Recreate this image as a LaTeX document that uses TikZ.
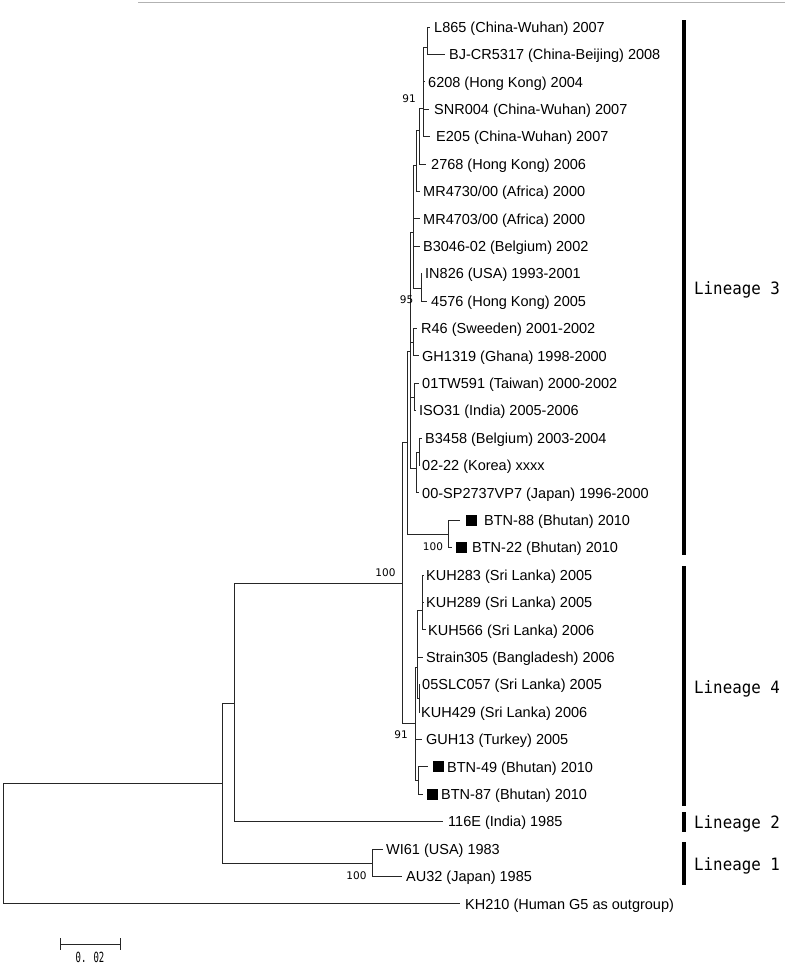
\documentclass[tikz,border=0pt]{standalone}
\usepackage{fontspec}
\usepackage{graphicx}
\setmainfont{Liberation Sans}
\newfontfamily\monofont{DejaVu Sans Mono}
\newfontfamily\bootfont{DejaVu Sans}
\begin{document}
\begin{tikzpicture}[x=1pt,y=-1pt,
  branch/.style={draw=black!85, line width=0.9pt},
  leaf/.style={anchor=west, inner sep=0pt, font=\fontsize{14.5}{16}\selectfont, text height=10.4pt, text depth=0pt},
  boot/.style={inner sep=0pt, font=\bootfont\fontsize{10.5}{12}\selectfont, text height=7.6pt, text depth=0pt},
  lin/.style={anchor=west, inner sep=0pt, font=\monofont\fontsize{17}{19}\selectfont, text height=12.4pt, text depth=0pt},
  bar/.style={line width=3.3pt, black},
  marker/.style={fill=black, minimum size=11pt, inner sep=0pt, anchor=west}]
\useasboundingbox (0,0) rectangle (788,964);
\draw[black!30, line width=0.8pt] (138,2.5) -- (785,2.5);

% internal nodes
\coordinate (root) at (3,783);
\coordinate (n222) at (222,783);
\coordinate (n234) at (234,703);
\coordinate (nL1) at (372,863);
\coordinate (N34) at (402,583);
\coordinate (N3) at (407,442);
\coordinate (nBTN) at (448,534);
\coordinate (nUp) at (410,351);
\coordinate (nC) at (413,232);
\coordinate (nB) at (416,165);
\coordinate (nA) at (419,130);
\coordinate (n91) at (423,108);
\coordinate (nLB) at (427,47);
\coordinate (nIN) at (421,288);
\coordinate (nR) at (413,342);
\coordinate (nTW) at (414,397);
\coordinate (n00) at (416,468);
\coordinate (nBK) at (419,452);
\coordinate (nL4) at (415,723);
\coordinate (nK3) at (417,667);
\coordinate (nK1) at (422,610);
\coordinate (nK2) at (419,698);
\coordinate (nBT) at (418,780);

% leaf tips
\coordinate (t0) at (430,27.0);
\coordinate (t1) at (445,54.4);
\coordinate (t2) at (425,81.8);
\coordinate (t3) at (429,109.2);
\coordinate (t4) at (430,136.6);
\coordinate (t5) at (426,164.0);
\coordinate (t6) at (420,191.4);
\coordinate (t7) at (420,218.8);
\coordinate (t8) at (420,246.2);
\coordinate (t9) at (422,273.6);
\coordinate (t10) at (427,301.0);
\coordinate (t11) at (417,328.4);
\coordinate (t12) at (419,355.8);
\coordinate (t13) at (419,383.2);
\coordinate (t14) at (416,410.6);
\coordinate (t15) at (422,438.0);
\coordinate (t16) at (420,465.4);
\coordinate (t17) at (419,492.8);
\coordinate (t18) at (460,520.2);
\coordinate (t19) at (452,547.6);
\coordinate (t20) at (424,575.0);
\coordinate (t21) at (424,602.4);
\coordinate (t22) at (426,629.8);
\coordinate (t23) at (423,657.2);
\coordinate (t24) at (420,684.6);
\coordinate (t25) at (420,712.0);
\coordinate (t26) at (422,739.4);
\coordinate (t27) at (428,766.8);
\coordinate (t28) at (423,794.2);
\coordinate (t29) at (443,821.6);
\coordinate (t30) at (383,849.0);
\coordinate (t31) at (402,876.4);
\coordinate (t32) at (460,903.8);

% branches
\draw[branch] (root) |- (n222);
\draw[branch] (root) |- (t32);
\draw[branch] (n222) |- (n234);
\draw[branch] (n222) |- (nL1);
\draw[branch] (nL1) |- (t30);
\draw[branch] (nL1) |- (t31);
\draw[branch] (n234) |- (N34);
\draw[branch] (n234) |- (t29);
\draw[branch] (N34) |- (N3);
\draw[branch] (N34) |- (nL4);
\draw[branch] (N3) |- (nUp);
\draw[branch] (N3) |- (nBTN);
\draw[branch] (nBTN) |- (t18);
\draw[branch] (nBTN) |- (t19);
\draw[branch] (nUp) |- (nC);
\draw[branch] (nUp) |- (nR);
\draw[branch] (nUp) |- (nTW);
\draw[branch] (nUp) |- (n00);
\draw[branch] (nC) |- (nB);
\draw[branch] (nC) |- (t7);
\draw[branch] (nC) |- (t8);
\draw[branch] (nC) |- (nIN);
\draw[branch] (nB) |- (nA);
\draw[branch] (nB) |- (t6);
\draw[branch] (nA) |- (n91);
\draw[branch] (nA) |- (t5);
\draw[branch] (n91) |- (nLB);
\draw[branch] (n91) |- (t2);
\draw[branch] (n91) |- (t3);
\draw[branch] (n91) |- (t4);
\draw[branch] (nLB) |- (t0);
\draw[branch] (nLB) |- (t1);
\draw[branch] (nIN) |- (t9);
\draw[branch] (nIN) |- (t10);
\draw[branch] (nR) |- (t11);
\draw[branch] (nR) |- (t12);
\draw[branch] (nTW) |- (t13);
\draw[branch] (nTW) |- (t14);
\draw[branch] (n00) |- (nBK);
\draw[branch] (n00) |- (t17);
\draw[branch] (nBK) |- (t15);
\draw[branch] (nBK) |- (t16);
\draw[branch] (nL4) |- (nK3);
\draw[branch] (nL4) |- (t26);
\draw[branch] (nL4) |- (nBT);
\draw[branch] (nK3) |- (nK1);
\draw[branch] (nK3) |- (t23);
\draw[branch] (nK3) |- (nK2);
\draw[branch] (nK1) |- (t20);
\draw[branch] (nK1) |- (t21);
\draw[branch] (nK1) |- (t22);
\draw[branch] (nK2) |- (t24);
\draw[branch] (nK2) |- (t25);
\draw[branch] (nBT) |- (t27);
\draw[branch] (nBT) |- (t28);

% leaf labels
\node[leaf] (l0) at (434,27.0) {L865 (China-Wuhan) 2007};
\node[leaf] (l1) at (449,54.4) {BJ-CR5317 (China-Beijing) 2008};
\node[leaf] (l2) at (428,81.8) {6208 (Hong Kong) 2004};
\node[leaf] (l3) at (434,109.2) {SNR004 (China-Wuhan) 2007};
\node[leaf] (l4) at (436,136.6) {E205 (China-Wuhan) 2007};
\node[leaf] (l5) at (431,164.0) {2768 (Hong Kong) 2006};
\node[leaf] (l6) at (423,191.4) {MR4730/00 (Africa) 2000};
\node[leaf] (l7) at (423,218.8) {MR4703/00 (Africa) 2000};
\node[leaf] (l8) at (423,246.2) {B3046-02 (Belgium) 2002};
\node[leaf] (l9) at (425,273.6) {IN826 (USA) 1993-2001};
\node[leaf] (l10) at (431,301.0) {4576 (Hong Kong) 2005};
\node[leaf] (l11) at (421,328.4) {R46 (Sweeden) 2001-2002};
\node[leaf] (l12) at (422,355.8) {GH1319 (Ghana) 1998-2000};
\node[leaf] (l13) at (422,383.2) {01TW591 (Taiwan) 2000-2002};
\node[leaf] (l14) at (419,410.6) {ISO31 (India) 2005-2006};
\node[leaf] (l15) at (425,438.0) {B3458 (Belgium) 2003-2004};
\node[leaf] (l16) at (422,465.4) {02-22 (Korea) xxxx};
\node[leaf] (l17) at (422,492.8) {00-SP2737VP7 (Japan) 1996-2000};
\node[marker] (m18) at (466,520.2) {};
\node[leaf] (l18) at (484,520.2) {BTN-88 (Bhutan) 2010};
\node[marker] (m19) at (456,547.6) {};
\node[leaf] (l19) at (472,547.6) {BTN-22 (Bhutan) 2010};
\node[leaf] (l20) at (426,575.0) {KUH283 (Sri Lanka) 2005};
\node[leaf] (l21) at (426,602.4) {KUH289 (Sri Lanka) 2005};
\node[leaf] (l22) at (428,629.8) {KUH566 (Sri Lanka) 2006};
\node[leaf] (l23) at (426,657.2) {Strain305 (Bangladesh) 2006};
\node[leaf] (l24) at (422,684.6) {05SLC057 (Sri Lanka) 2005};
\node[leaf] (l25) at (421,712.0) {KUH429 (Sri Lanka) 2006};
\node[leaf] (l26) at (426,739.4) {GUH13 (Turkey) 2005};
\node[marker] (m27) at (433,766.8) {};
\node[leaf] (l27) at (447,766.8) {BTN-49 (Bhutan) 2010};
\node[marker] (m28) at (427,794.2) {};
\node[leaf] (l28) at (441,794.2) {BTN-87 (Bhutan) 2010};
\node[leaf] (l29) at (448,821.6) {116E (India) 1985};
\node[leaf] (l30) at (386,849.0) {WI61 (USA) 1983};
\node[leaf] (l31) at (406,876.4) {AU32 (Japan) 1985};
\node[leaf] (l32) at (465,903.8) {KH210 (Human G5 as outgroup)};

% bootstrap values
\node[boot] (b1) at (409,99) {91};
\node[boot] (b2) at (406.5,300) {95};
\node[boot] (b3) at (433,547) {100};
\node[boot] (b4) at (385.5,572.5) {100};
\node[boot] (b5) at (401,735) {91};
\node[boot] (b6) at (356.5,876) {100};

% lineage bars and labels
\draw[bar] (684,20) -- (684,555);
\draw[bar] (684,566) -- (684,806);
\draw[bar] (684,812) -- (684,832);
\draw[bar] (684,842) -- (684,885);
\node[lin] (g3) at (694,288) {\scalebox{0.93}[1]{Lineage 3}};
\node[lin] (g4) at (694,687) {\scalebox{0.93}[1]{Lineage 4}};
\node[lin] (g2) at (694,822) {\scalebox{0.93}[1]{Lineage 2}};
\node[lin] (g1) at (694,864) {\scalebox{0.93}[1]{Lineage 1}};

% scale bar
\coordinate (s1) at (60,944);
\coordinate (s2) at (120,944);
\draw[branch] (s1) -- (s2);
\draw[branch] ([yshift=6pt]s1) -- ([yshift=-6pt]s1);
\draw[branch] ([yshift=6pt]s2) -- ([yshift=-6pt]s2);
\node[inner sep=0pt, font=\monofont\fontsize{14}{16}\selectfont, text height=10.2pt, text depth=0pt] (sl) at (90,957) {\scalebox{0.64}[1]{0. 02}};
\end{tikzpicture}
\end{document}
